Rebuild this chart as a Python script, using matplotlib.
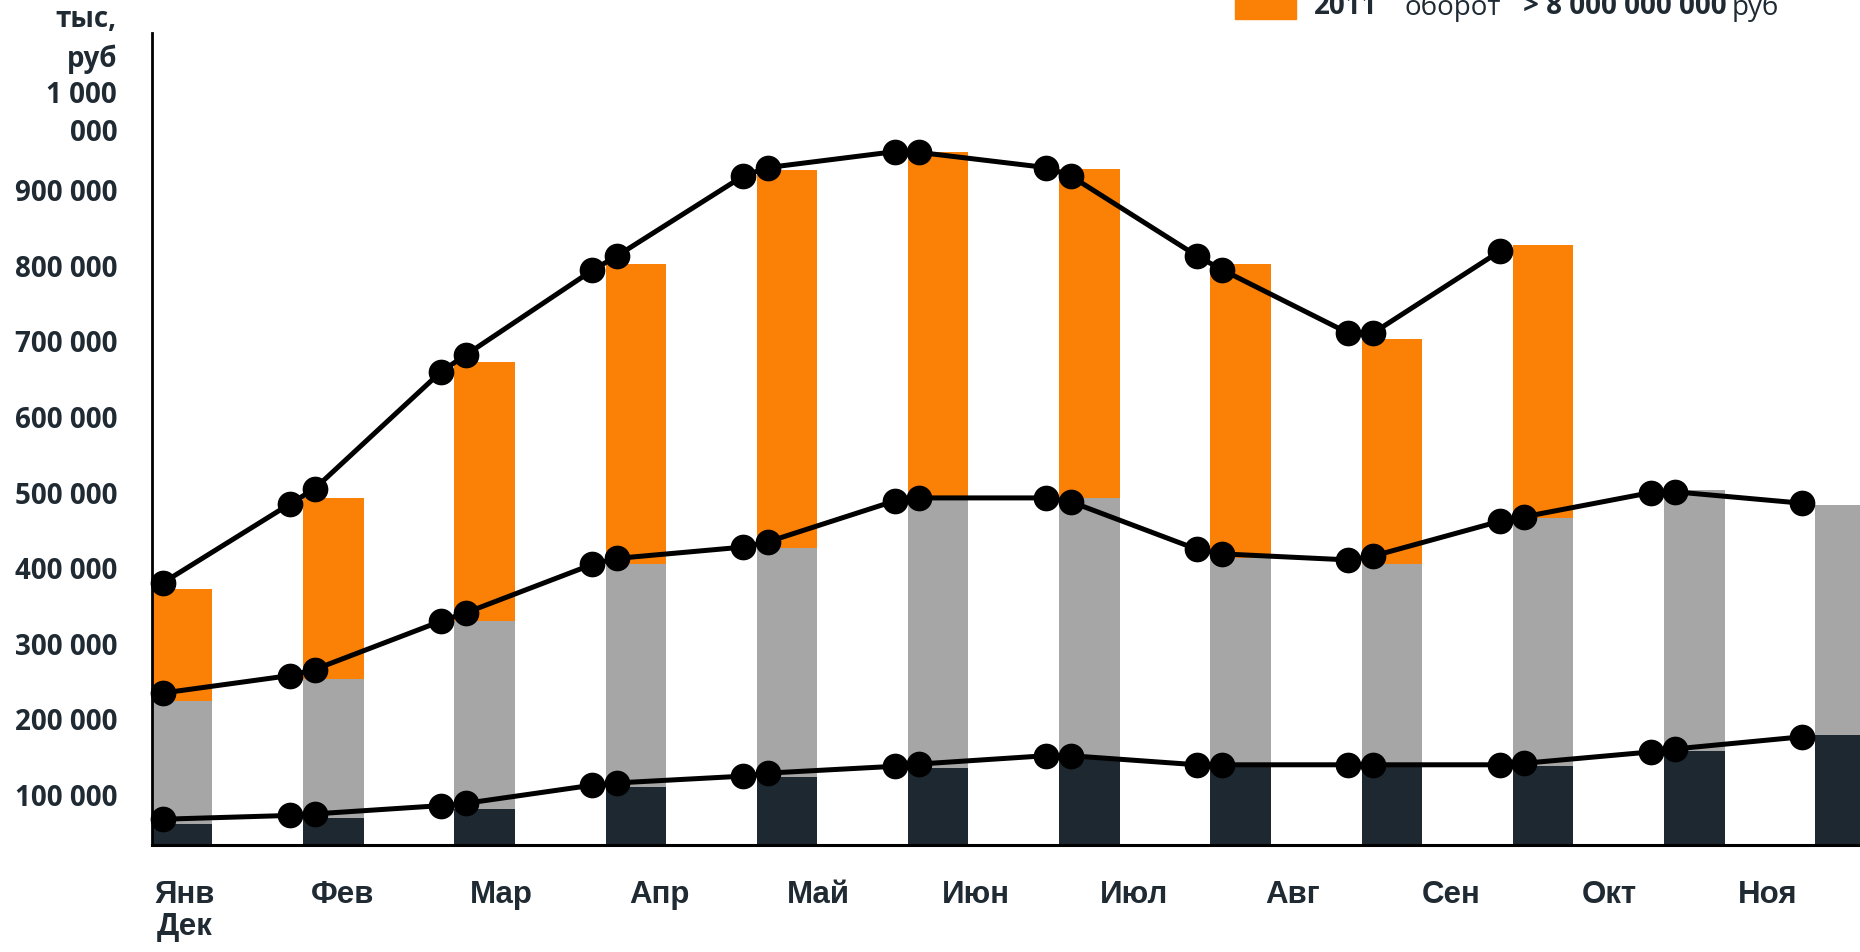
import matplotlib.pyplot as plt
import numpy as np
from matplotlib.patches import Rectangle

plt.rcParams['font.family'] = ['Open Sans', 'DejaVu Sans']

# подписи месяцев (декабрь перенесён под январь, как в оригинале)
months = ['Янв\nДек', 'Фев', 'Мар', 'Апр', 'Май', 'Июн', 'Июл', 'Авг', 'Сен', 'Окт', 'Ноя']

# столбцы, тыс. руб (уровни верхних краёв)
bar_dark = [62, 69, 82, 110, 124, 136, 150, 138, 140, 138, 158, 179]
bar_gray = [224, 253, 330, 406, 427, 493, 493, 414, 406, 466, 503, 484]
bar_orange = [372, 493, 673, 803, 927, 951, 928, 803, 703, 827, np.nan, np.nan]

# линии: по две точки на месяц (приход / уход), первая и последняя - по одной
line_top = [381, 485, 505, 660, 682, 794, 813, 919, 930, 951, 950,
            930, 919, 813, 795, 711, 711, 819]
line_mid = [235, 258, 266, 330, 341, 405, 413, 428, 435, 489, 493,
            493, 488, 425, 419, 411, 416, 462, 468, 500, 501, 486]
line_low = [68, 73, 75, 86, 89, 113, 116, 125, 129, 138, 141,
            152, 152, 140, 140, 140, 140, 140, 142, 157, 161, 177]

yticks = [100, 200, 300, 400, 500, 600, 700, 800, 900, 1000]
ylabels = ['100 000', '200 000', '300 000', '400 000', '500 000', '600 000',
           '700 000', '800 000', '900 000', '1 000\n000']

TXT = '#1f2a33'
D_IN, D_OUT = 0.088, 0.075


def point_x(n):
    xs = [D_OUT]
    for i in range(1, n):
        xs += [i - D_IN, i + D_OUT]
    return xs[:-1]


fig = plt.figure(figsize=(18.6, 9.52), dpi=100)
ax = fig.add_axes([0.0817, 0.1124, 0.9183, 0.8529])

x = np.arange(len(bar_dark))
k = 1000
ax.bar(x, np.nan_to_num(bar_orange) * k, width=0.4, align='edge', color='#fb8006', zorder=1)
ax.bar(x, np.array(bar_gray) * k, width=0.4, align='edge', color='#a6a6a6', zorder=1.1)
ax.bar(x, np.array(bar_dark) * k, width=0.4, align='edge', color='#1e2830', zorder=1.2)

for vals in (line_top, line_mid, line_low):
    xs = point_x(len(vals) // 2 + 1)
    ax.plot(xs, np.array(vals) * k, color='black', lw=3.6, marker='o',
            markersize=17.5, zorder=3, clip_on=False)

ax.set_xlim(0, 11.296)
ax.set_ylim(33900, 1107900)
for s in ('top', 'right'):
    ax.spines[s].set_visible(False)
ax.spines['left'].set_linewidth(2)
ax.spines['bottom'].set_linewidth(2.2)
ax.spines['left'].set_color('black')
ax.spines['bottom'].set_color('black')

ax.set_xticks([])
ax.set_yticks([v * k for v in yticks])
ax.set_yticklabels(ylabels, fontsize=20, fontweight='bold', color=TXT, linespacing=1.4)
ax.get_yticklabels()[-1].set_verticalalignment('center')
ax.tick_params(axis='y', length=0, pad=25)

ax2 = ax.twiny()
ax2.set_xlim(-0.2066, 10.583)
ax2.xaxis.set_ticks_position('bottom')
ax2.set_xticks(range(len(months)))
ax2.set_xticklabels(months, fontsize=22.5, fontweight='bold', color=TXT,
                    family=['Liberation Sans Narrow', 'Liberation Sans', 'DejaVu Sans'],
                    linespacing=1.12)
ax2.tick_params(axis='x', length=0, pad=25)
for s in ax2.spines.values():
    s.set_visible(False)

fig.text(117 / 1860, 1 - 39.5 / 952, 'тыс,\nруб', ha='right', va='center',
         fontsize=20, fontweight='bold', color=TXT, linespacing=1.45, multialignment='right')

# легенда вверху справа (в оригинале обрезана верхним краем)
fig.patches.append(Rectangle((1235 / 1860, 1 - 19 / 952), 61 / 1860, 30 / 952,
                             transform=fig.transFigure, color='#fb8006'))
base = 1 - 14.5 / 952
fig.text(1314 / 1860, base, '2011', fontsize=20, fontweight='bold', color=TXT, va='baseline')
fig.text(1404 / 1860, base, 'оборот', fontsize=20, color=TXT, va='baseline')
fig.text(1523 / 1860, base, '> 8 000 000 000', fontsize=20, fontweight='bold', color=TXT, va='baseline')
fig.text(1732 / 1860, base, 'руб', fontsize=20, color=TXT, va='baseline')

fig.savefig('out.png', dpi=100)
